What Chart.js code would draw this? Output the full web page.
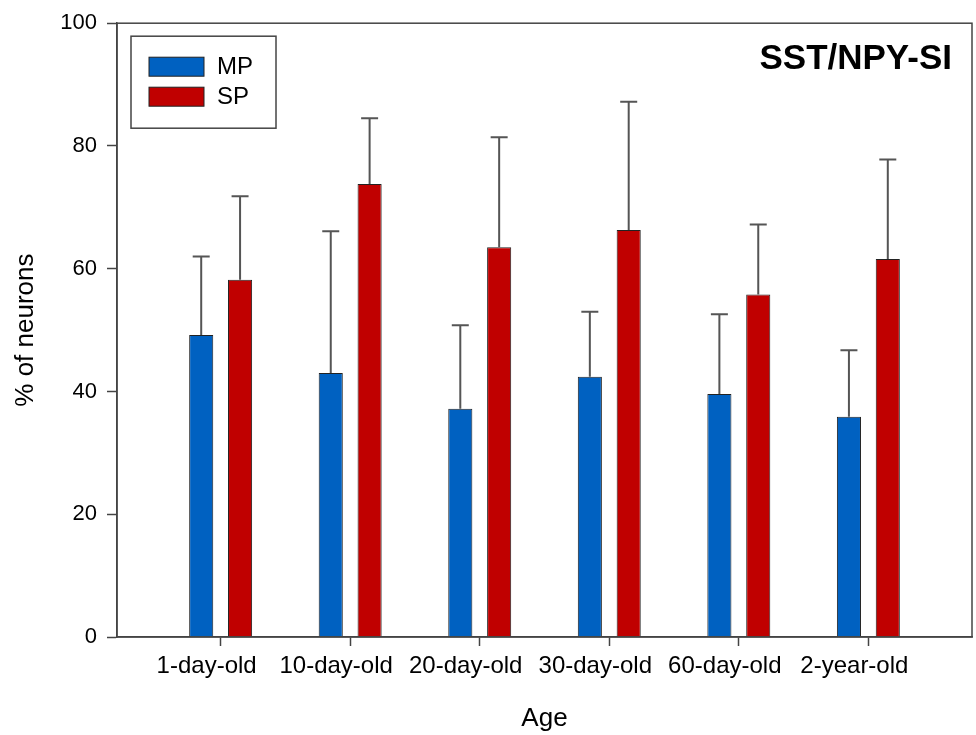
<!DOCTYPE html>
<html>
<head>
<meta charset="utf-8">
<script src="https://cdn.jsdelivr.net/npm/chart.js@4.4.1/dist/chart.umd.min.js"></script>
<style>
  html, body { margin: 0; padding: 0; background: #ffffff; }
  #wrap { width: 976px; height: 735px; position: relative; }
</style>
</head>
<body>
<div id="wrap"><canvas id="c" width="976" height="735"></canvas></div>
<script>
const CATEGORIES = ['1-day-old', '10-day-old', '20-day-old', '30-day-old', '60-day-old', '2-year-old'];
const MP_VALUES = [49.2, 43.0, 37.2, 42.4, 39.6, 35.9];
const MP_UPPER  = [62.0, 66.1, 50.8, 53.0, 52.6, 46.7];
const SP_VALUES = [58.2, 73.8, 63.5, 66.3, 55.8, 61.6];
const SP_UPPER  = [71.8, 84.5, 81.4, 87.2, 67.2, 77.8];
const Y_TICKS = [0, 20, 40, 60, 80, 100];
const PANEL_TITLE = 'SST/NPY-SI';

const FONT = "'Liberation Sans', Arial, sans-serif";
const AXIS_COLOR = '#444444';

const errorBars = {
  id: 'errorBars',
  afterDatasetsDraw(chart) {
    const ctx = chart.ctx;
    const y = chart.scales.y;
    const uppers = [MP_UPPER, SP_UPPER];
    ctx.save();
    ctx.strokeStyle = '#555555';
    ctx.lineWidth = 2;
    chart.data.datasets.forEach((ds, di) => {
      const meta = chart.getDatasetMeta(di);
      meta.data.forEach((bar, i) => {
        const top = y.getPixelForValue(uppers[di][i]);
        const x = bar.x;
        ctx.beginPath();
        ctx.moveTo(x, bar.y);
        ctx.lineTo(x, top);
        ctx.moveTo(x - 8.5, top);
        ctx.lineTo(x + 8.5, top);
        ctx.stroke();
      });
    });
    ctx.restore();
  }
};

const frameAndLegend = {
  id: 'frameAndLegend',
  afterDraw(chart) {
    const ctx = chart.ctx;
    const a = chart.chartArea;
    ctx.save();
    ctx.strokeStyle = AXIS_COLOR;
    ctx.lineWidth = 1.5;
    ctx.strokeRect(a.left, a.top, a.right - a.left, a.bottom - a.top);
    const lx = a.left + 14, ly = a.top + 13;
    ctx.strokeStyle = '#444444';
    ctx.lineWidth = 1.5;
    ctx.strokeRect(lx, ly, 145, 92);
    chart.data.datasets.forEach((ds, i) => {
      const sy = ly + 21 + i * 30;
      ctx.fillStyle = ds.backgroundColor;
      ctx.fillRect(lx + 18, sy, 55, 19);
      ctx.strokeStyle = '#222222';
      ctx.lineWidth = 1;
      ctx.strokeRect(lx + 18, sy, 55, 19);
      ctx.fillStyle = '#000000';
      ctx.font = '24px ' + FONT;
      ctx.textAlign = 'left';
      ctx.textBaseline = 'middle';
      ctx.fillText(ds.label, lx + 86, sy + 10);
    });
    ctx.fillStyle = '#000000';
    ctx.font = 'bold 35px ' + FONT;
    ctx.textAlign = 'right';
    ctx.textBaseline = 'middle';
    ctx.fillText(PANEL_TITLE, a.right - 20, a.top + 36);
    ctx.restore();
  }
};

new Chart(document.getElementById('c'), {
  type: 'bar',
  data: {
    datasets: [
      {
        label: 'MP',
        data: MP_VALUES.map((v, i) => ({ x: i, y: v })),
        backgroundColor: '#0061C1',
        borderColor: '#222222',
        borderWidth: 1,
        categoryPercentage: 0.6,
        barPercentage: 0.62
      },
      {
        label: 'SP',
        data: SP_VALUES.map((v, i) => ({ x: i, y: v })),
        backgroundColor: '#C00000',
        borderColor: '#222222',
        borderWidth: 1,
        categoryPercentage: 0.6,
        barPercentage: 0.62
      }
    ]
  },
  options: {
    responsive: false,
    animation: false,
    layout: { padding: { top: 20, right: 4, left: 0, bottom: 0 } },
    plugins: {
      legend: { display: false },
      tooltip: { enabled: false }
    },
    scales: {
      x: {
        type: 'linear',
        offset: false,
        min: -0.8,
        max: 5.8,
        afterBuildTicks: (s) => { s.ticks = CATEGORIES.map((c, i) => ({ value: i })); },
        afterFit: (s) => { s.height = 98; },
        grid: { offset: false, drawOnChartArea: false, drawTicks: true, tickLength: 9, tickColor: AXIS_COLOR, tickWidth: 1.5 },
        border: { display: true, color: AXIS_COLOR, width: 1.5 },
        ticks: {
          autoSkip: false,
          maxRotation: 0,
          padding: 6,
          labelOffset: -14,
          color: '#000000',
          font: { family: FONT, size: 24 },
          callback: (v) => CATEGORIES[v]
        },
        title: {
          display: true,
          text: 'Age',
          color: '#000000',
          font: { family: FONT, size: 26 },
          padding: { top: 0, bottom: 1 }
        }
      },
      y: {
        min: 0,
        max: 100,
        afterBuildTicks: (s) => { s.ticks = Y_TICKS.map(v => ({ value: v })); },
        afterFit: (s) => { s.width = 117; },
        grid: { drawOnChartArea: false, drawTicks: true, tickLength: 10, tickColor: AXIS_COLOR, tickWidth: 1.5 },
        border: { display: true, color: AXIS_COLOR, width: 1.5 },
        ticks: {
          padding: 10,
          color: '#000000',
          font: { family: FONT, size: 22 }
        },
        title: {
          display: true,
          text: '% of neurons',
          color: '#000000',
          font: { family: FONT, size: 26 },
          padding: { top: 10, bottom: 0 }
        }
      }
    }
  },
  plugins: [errorBars, frameAndLegend]
});
</script>
</body>
</html>
